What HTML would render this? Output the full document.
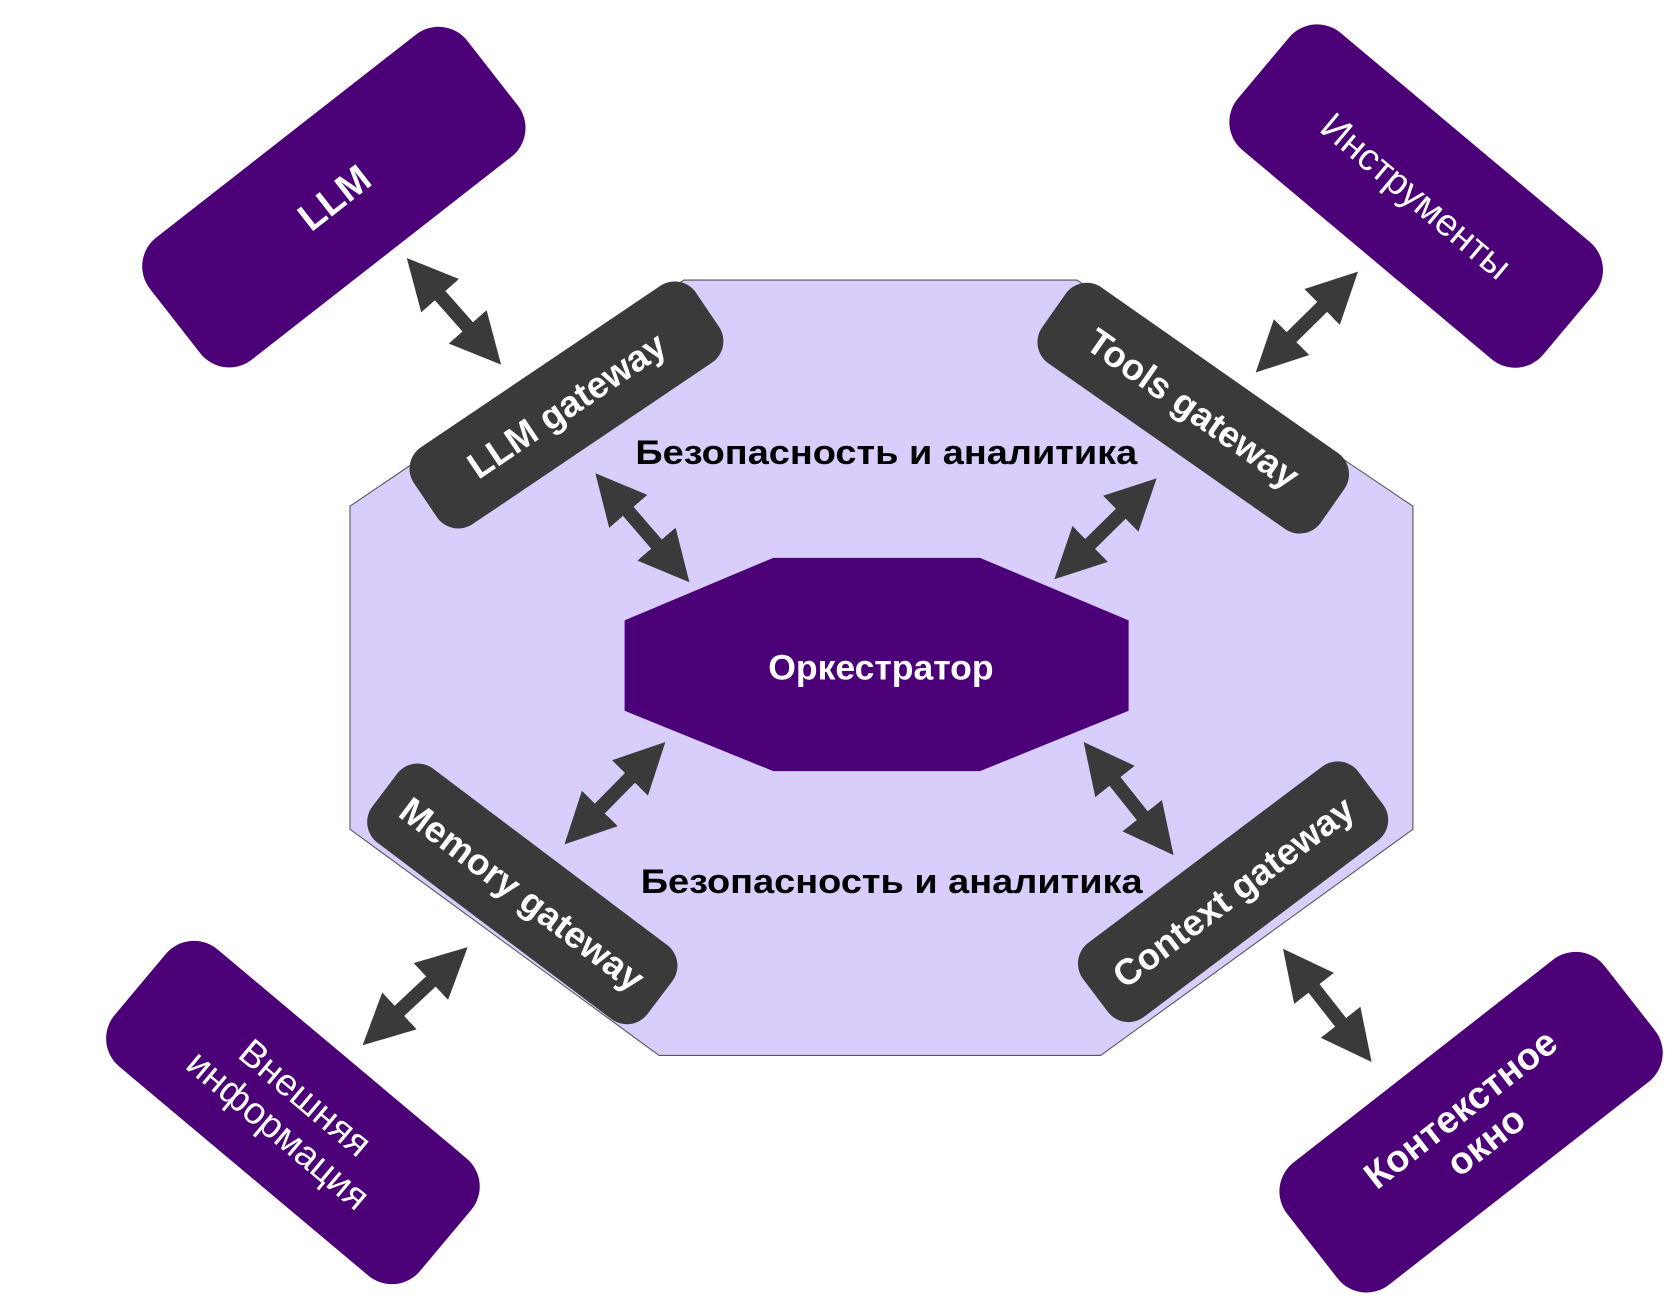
<!DOCTYPE html>
<html><head><meta charset="utf-8"><style>html,body{margin:0;padding:0;background:#fff}svg{display:block}</style></head><body>
<svg width="1680" height="1315" viewBox="0 0 1560 1221" xmlns="http://www.w3.org/2000/svg" font-family="'Liberation Sans', 'DejaVu Sans', sans-serif">
<defs>
<marker id="ah" viewBox="0 0 10 10" refX="7" refY="5" markerWidth="3.6" markerHeight="3.6" orient="auto-start-reverse" markerUnits="strokeWidth">
<path d="M0,0 L10,5 L0,10 Z" fill="#3a3a3a"/></marker>
</defs>
<polygon points="635,260 1000,260 1312,470 1312,770 1022,980 612,980 325,770 325,470" fill="#d9cdfc" stroke="#555" stroke-width="1"/>
<polygon points="718,518 910,518 1048,576 1048,660 910,716 718,716 580,660 580,576" fill="#4b0078"/>
<text x="818" y="631" fill="#fff" font-size="33" font-weight="bold" text-anchor="middle">Оркестратор</text>
<text x="823" y="431" fill="#000" font-size="32" font-weight="bold" text-anchor="middle" textLength="466" lengthAdjust="spacingAndGlyphs">Безопасность и аналитика</text>
<text x="828" y="829" fill="#000" font-size="32" font-weight="bold" text-anchor="middle" textLength="466" lengthAdjust="spacingAndGlyphs">Безопасность и аналитика</text>

<!-- outer boxes -->
<g transform="translate(310,183) rotate(-38)"><rect x="-187" y="-72" width="374" height="144" rx="34" fill="#4b0078"/>
<text x="0" y="13" fill="#fff" font-size="36" font-weight="bold" text-anchor="middle">LLM</text></g>
<g transform="translate(1315,182) rotate(40)"><rect x="-185" y="-71" width="370" height="142" rx="34" fill="#4b0078"/>
<text x="0" y="12" fill="#fff" font-size="35" text-anchor="middle">Инструменты</text></g>
<g transform="translate(272,1033) rotate(40)"><rect x="-185" y="-71" width="370" height="142" rx="34" fill="#4b0078"/>
<text x="0" y="-6" fill="#fff" font-size="35" text-anchor="middle">Внешняя</text>
<text x="0" y="33" fill="#fff" font-size="35" text-anchor="middle">информация</text></g>
<g transform="translate(1366,1042) rotate(-38)"><rect x="-187" y="-72" width="374" height="144" rx="34" fill="#4b0078"/>
<text x="0" y="-4" fill="#fff" font-size="35" font-weight="bold" text-anchor="middle">Контекстное</text>
<text x="0" y="34" fill="#fff" font-size="35" font-weight="bold" text-anchor="middle">окно</text></g>

<!-- gateways -->
<g transform="translate(526,376) rotate(-34)"><rect x="-158" y="-43" width="316" height="86" rx="24" fill="#3a3a3a"/>
<text x="0" y="12" fill="#fff" font-size="34" font-weight="bold" text-anchor="middle">LLM gateway</text></g>
<g transform="translate(1108,379) rotate(35)"><rect x="-158" y="-43" width="316" height="86" rx="24" fill="#3a3a3a"/>
<text x="0" y="12" fill="#fff" font-size="34" font-weight="bold" text-anchor="middle">Tools gateway</text></g>
<g transform="translate(485,830) rotate(37)"><rect x="-160" y="-43" width="320" height="86" rx="24" fill="#3a3a3a"/>
<text x="0" y="12" fill="#fff" font-size="34" font-weight="bold" text-anchor="middle">Memory gateway</text></g>
<g transform="translate(1145,828) rotate(-37)"><rect x="-160" y="-43" width="320" height="86" rx="24" fill="#3a3a3a"/>
<text x="0" y="12" fill="#fff" font-size="34" font-weight="bold" text-anchor="middle">Context gateway</text></g>

<!-- arrows -->
<g stroke="#3a3a3a" stroke-width="13" marker-start="url(#ah)" marker-end="url(#ah)" fill="none">
<line x1="387" y1="250" x2="456" y2="328"/>
<line x1="562" y1="450" x2="631" y2="530"/>
<line x1="1251" y1="262" x2="1176" y2="336"/>
<line x1="1064" y1="454" x2="989" y2="528"/>
<line x1="608" y1="699" x2="534" y2="774"/>
<line x1="1015" y1="700" x2="1081" y2="783"/>
<line x1="424" y1="889" x2="347" y2="961"/>
<line x1="1200" y1="892" x2="1265" y2="975"/>
</g>
</svg>
</body></html>
